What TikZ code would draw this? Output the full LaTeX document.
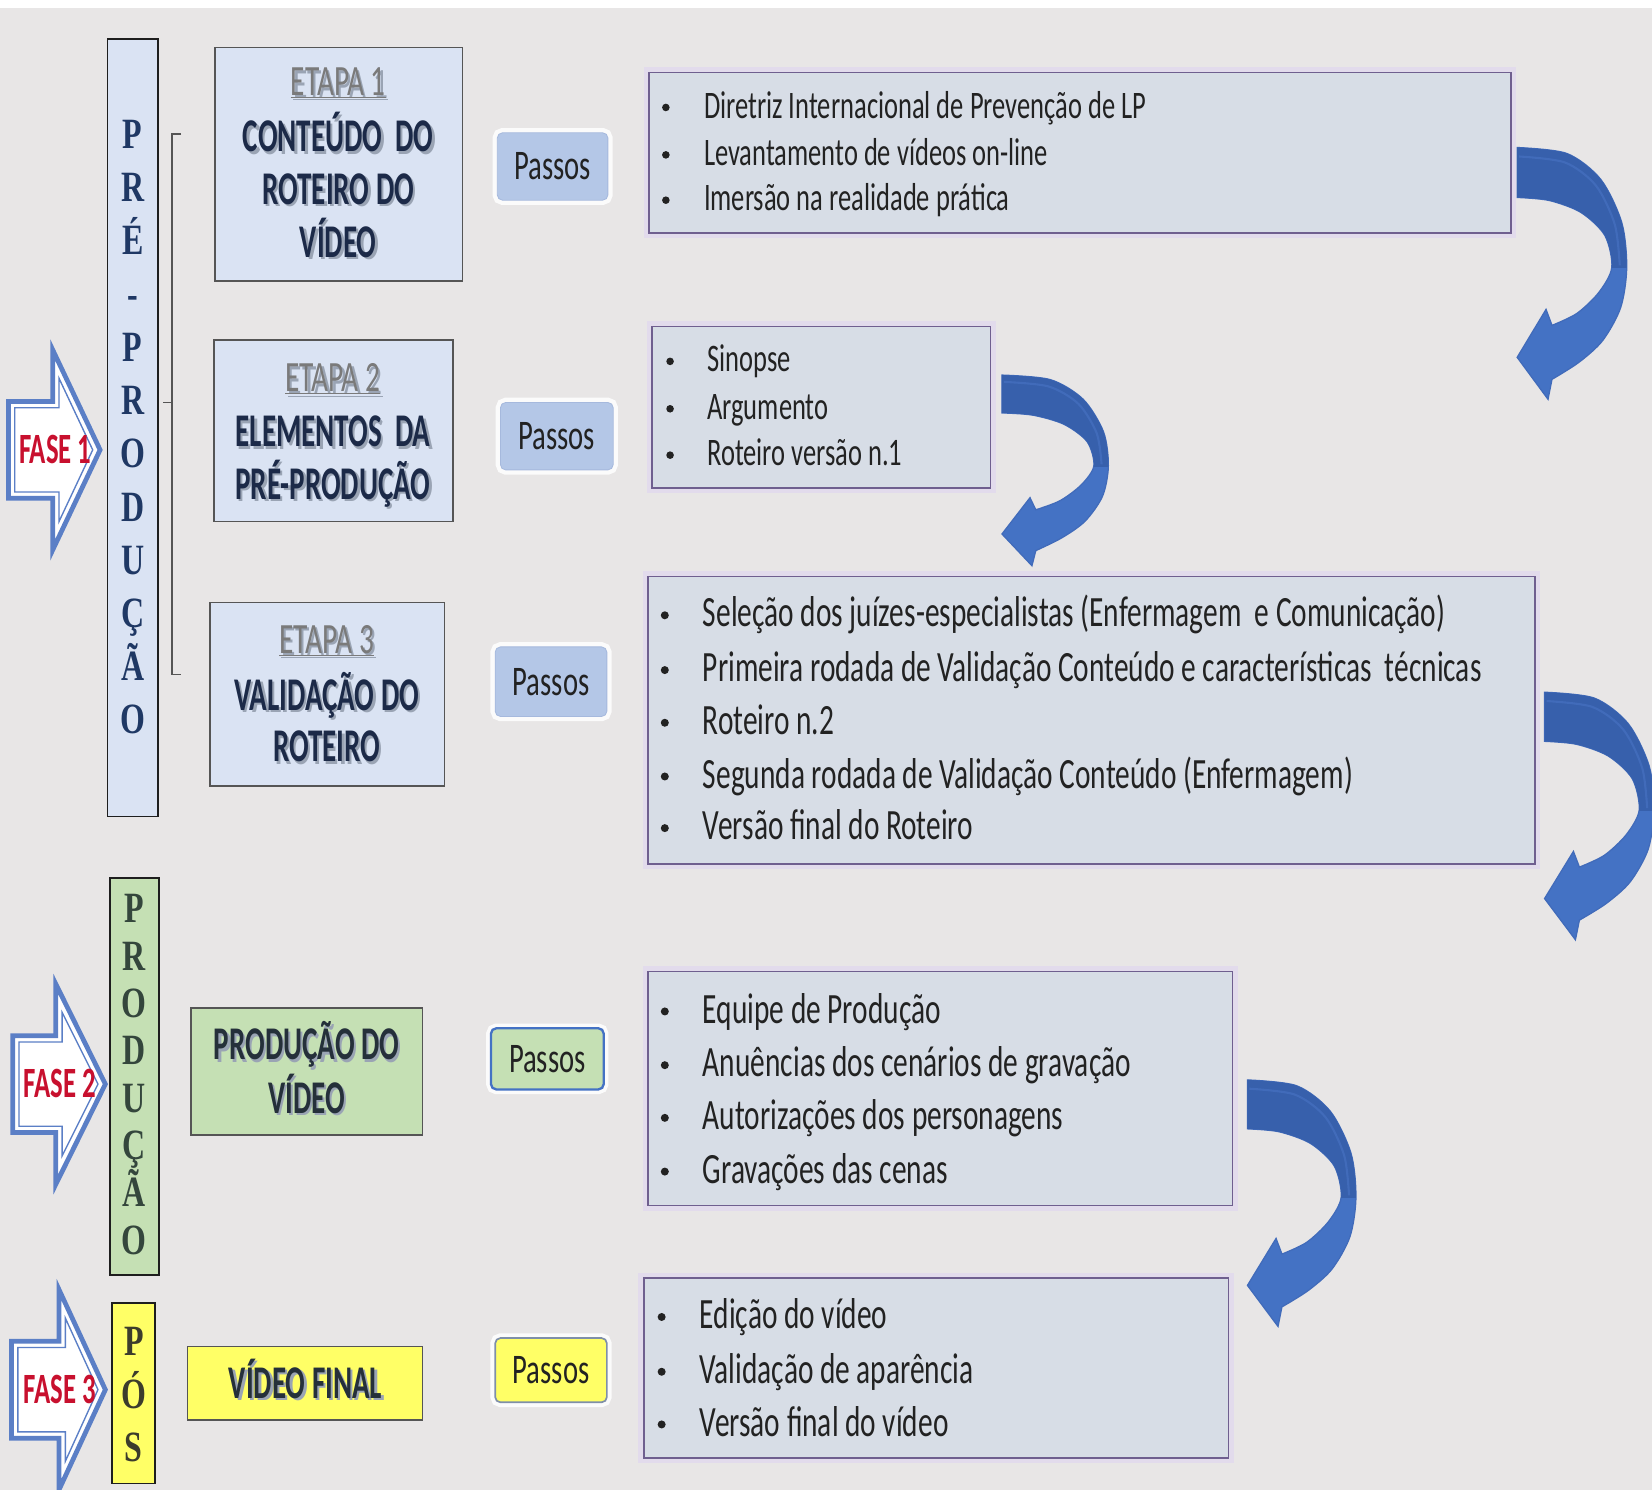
\documentclass[tikz,border=0pt]{standalone}
\usepackage{fontspec}
\setmainfont{Carlito}
\newfontfamily\calr[FakeStretch=0.68]{Carlito}
\newfontfamily\calb[FakeStretch=0.62]{Carlito}
\newfontfamily\tms[FakeStretch=0.74]{Liberation Serif}
\definecolor{bg}{HTML}{E8E6E6}
\definecolor{lblue}{HTML}{DAE3F3}
\definecolor{ebord}{HTML}{555555}
\definecolor{barbord}{HTML}{1E1E1E}
\definecolor{lfill}{HTML}{D7DDE6}
\definecolor{lbord}{HTML}{6F5F8F}
\definecolor{halo}{HTML}{E2DBEC}
\definecolor{pblue}{HTML}{B4C7E7}
\definecolor{pbord}{HTML}{A6B9DD}
\definecolor{lgreen}{HTML}{C5E0B4}
\definecolor{lyellow}{HTML}{FFFF66}
\definecolor{navy}{HTML}{1F3864}
\definecolor{ttlcol}{HTML}{1C2A48}
\definecolor{gttl}{HTML}{25303A}
\definecolor{etcol}{HTML}{7A7A7A}
\definecolor{shd}{HTML}{9AA4B4}
\definecolor{txt}{HTML}{222222}
\definecolor{fred}{HTML}{C8102E}
\definecolor{fblue}{HTML}{5B7FC6}
\definecolor{abl}{HTML}{4472C4}
\definecolor{adark}{HTML}{3760AC}
\definecolor{aedge}{HTML}{416BBA}
\definecolor{gltr}{HTML}{34463C}
\definecolor{yltr}{HTML}{3C3C2C}
\definecolor{gbord}{HTML}{4472C4}
\definecolor{ybord}{HTML}{7F8FA9}

\newcommand\shd[1]{\makebox[0pt][l]{\hspace{2.2pt}\raisebox{-2.2pt}{\color{shd}#1}}#1}

% curved ribbon arrow: x, y (tail top-left), width, height
\newcommand\carrow[4]{%
\begin{scope}[shift={(#1,#2)}, xscale=#3/110, yscale=#4/252]
\path[fill=abl, draw=aedge, line width=1.2pt] (0,0) -- plot[smooth] coordinates {(0,0) (50,6) (84,32) (105,75) (110,120) (104,160) (86,193) (62,215) (35,232)} -- (31,252) -- (0,210) -- (29,162) -- (35,178) -- plot[smooth] coordinates {(35,178) (60,166) (82,145) (95,120) (88,88) (64,65) (32,53) (0,50)} -- cycle;
\begin{scope}
\clip (0,0) -- plot[smooth] coordinates {(0,0) (50,6) (84,32) (105,75) (110,120) (104,160) (86,193) (62,215) (35,232)} -- (31,252) -- (0,210) -- (29,162) -- (35,178) -- plot[smooth] coordinates {(35,178) (60,166) (82,145) (95,120) (88,88) (64,65) (32,53) (0,50)} -- cycle;
\fill[adark] (-5,-5) rectangle (120,121);
\draw[aedge, line width=2pt] plot[smooth] coordinates {(2,9) (48,15) (79,38) (98,77) (103,118)};
\end{scope}
\end{scope}}

% block arrow: cy, left, head base, tip, name, label
\newcommand\fasearrow[6]{%
\path[fill=white, draw=fblue, line width=4.5pt, line join=miter] ({#2},{#1-46}) -- ({#3},{#1-46}) -- ({#3},{#1-95}) -- ({#4},{#1}) -- ({#3},{#1+95}) -- ({#3},{#1+46}) -- ({#2},{#1+46}) -- cycle;
\path[draw=fblue, line width=1.3pt] ({#2+6},{#1-40}) -- ({#3+6},{#1-40}) -- ({#3+6},{#1-68}) -- ({#4-7},{#1}) -- ({#3+6},{#1+68}) -- ({#3+6},{#1+40}) -- ({#2+6},{#1+40}) -- cycle;
\node[fasetxt] (#5) at ({(#2+#4)/2+1},{#1+13}) {#6};}

\tikzset{
  ebox/.style={draw=ebord, fill=lblue, line width=1.6pt, inner sep=0pt, outer sep=0pt},
  bar/.style={draw=barbord, line width=1.8pt, inner sep=0pt, outer sep=0pt},
  lbox/.style={draw=lbord, fill=lfill, line width=1.5pt, inner sep=0pt, outer sep=0pt, preaction={draw=halo, line width=10pt}},
  pbox/.style={rounded corners=5pt, inner sep=0pt, outer sep=0pt, preaction={draw=white, line width=9pt, opacity=.85}, font=\calr\fontsize{40}{44}\selectfont, text=txt},
  ttl/.style={anchor=base, inner sep=0pt, font=\calb\bfseries\fontsize{44.5}{50}\selectfont, text=ttlcol},
  etl/.style={anchor=base, inner sep=0pt, font=\calr\fontsize{41}{44}\selectfont, text=etcol},
  itm/.style={anchor=base west, inner sep=0pt, font=\calr\fontsize{41}{45}\selectfont, text=txt},
  itms/.style={anchor=base west, inner sep=0pt, font=\calr\fontsize{37}{41}\selectfont, text=txt},
  ltr/.style={anchor=base, inner sep=0pt, font=\tms\bfseries\fontsize{41}{44}\selectfont},
  fasetxt/.style={anchor=base, inner sep=0pt, font=\calb\bfseries\fontsize{41}{44}\selectfont, text=fred},
}

\begin{document}
\begin{tikzpicture}[x=1pt,y=-1pt]
\useasboundingbox (0,0) rectangle (1568,1414);
\clip (0,0) rectangle (1568,1414);
\fill[bg] (0,0) rectangle (1568,1414);
\fill[white] (0,0) rectangle (1568,8);

% ---------- vertical phase bars ----------
\node[bar, fill=lblue, minimum width=48pt, minimum height=738pt] (prebar) at (126,406) {};
\foreach \l [count=\i from 0] in {P,R,É,-,P,R,O,D,U,Ç,Ã,O}
  \node[ltr, text=navy] (pre\i) at (126,{127+50.5*\i+14}) {\l};

\node[bar, fill=lgreen, minimum width=47pt, minimum height=377pt] (prodbar) at (127.5,1021.5) {};
\foreach \l [count=\i from 0] in {P,R,O,D,U,Ç,Ã,O}
  \node[ltr, text=gltr] (prod\i) at (127,{862+44.9*\i+14}) {\l};

\node[bar, fill=lyellow, minimum width=41pt, minimum height=171pt] (posbar) at (126.5,1322.5) {};
\foreach \l [count=\i from 0] in {P,Ó,S}
  \node[ltr, text=yltr] (pos\i) at (127,{1273+50*\i+14}) {\l};

% bracket
\draw[ebord, line width=1.5pt] (172,127) -- (163,127) -- (163,640) -- (172,640);
\draw[ebord, line width=1.5pt] (163,382) -- (155,382);

% ---------- FASE arrows ----------
\fasearrow{427}{8}{50}{95}{fase1}{FASE 1}
\fasearrow{1029}{12}{53}{100}{fase2}{FASE 2}
\fasearrow{1319}{11}{56}{100}{fase3}{FASE 3}

% ---------- ETAPA boxes ----------
\node[ebox, minimum width=235pt, minimum height=222pt] (e1) at (321.5,156) {};
\node[etl] (e1a) at (321,91) {\shd{\underline{ETAPA 1}}};
\node[ttl] (e1b) at (321,144) {\shd{CONTEÚDO~ DO}};
\node[ttl] (e1c) at (321,194) {\shd{ROTEIRO DO}};
\node[ttl] (e1d) at (321,244) {\shd{VÍDEO}};

\node[ebox, minimum width=227pt, minimum height=172pt] (e2) at (316.5,409) {};
\node[etl] (e2a) at (316,372) {\shd{\underline{ETAPA 2}}};
\node[ttl] (e2b) at (316,424) {\shd{ELEMENTOS~ DA}};
\node[ttl] (e2c) at (316,474) {\shd{PRÉ-PRODUÇÃO}};

\node[ebox, minimum width=223pt, minimum height=174pt] (e3) at (310.5,659) {};
\node[etl] (e3a) at (310,620) {\shd{\underline{ETAPA 3}}};
\node[ttl] (e3b) at (310,674) {\shd{VALIDAÇÃO DO}};
\node[ttl] (e3c) at (310,723) {\shd{ROTEIRO}};

\node[ebox, fill=lgreen, minimum width=220pt, minimum height=120pt] (gp) at (291,1017) {};
\node[ttl, text=gttl] (gpa) at (291,1006) {\shd{PRODUÇÃO DO}};
\node[ttl, text=gttl] (gpb) at (291,1057) {\shd{VÍDEO}};

\node[ebox, fill=lyellow, minimum width=223pt, minimum height=70pt] (vf) at (289.5,1313) {};
\node[ttl, text=gttl] (vfa) at (290,1327) {\shd{VÍDEO FINAL}};

% ---------- Passos ----------
\node[pbox, fill=pblue, draw=pbord, line width=0.8pt, minimum width=105pt, minimum height=64pt] (p1) at (524.5,158) {Passos};
\node[pbox, fill=pblue, draw=pbord, line width=0.8pt, minimum width=107pt, minimum height=64pt] (p2) at (528.5,414) {Passos};
\node[pbox, fill=pblue, draw=pbord, line width=0.8pt, minimum width=106pt, minimum height=66pt] (p3) at (523,647) {Passos};
\node[pbox, fill=lgreen, draw=gbord, line width=2.2pt, minimum width=107pt, minimum height=58pt] (p4) at (519.5,1005) {Passos};
\node[pbox, fill=lyellow, draw=ybord, line width=1.6pt, minimum width=106pt, minimum height=61pt] (p5) at (523,1300.5) {Passos};

% ---------- list boxes ----------
\node[lbox, minimum width=818pt, minimum height=152pt] (b1) at (1025,145) {};
\node[lbox, minimum width=321pt, minimum height=153pt] (b2) at (779.5,386.5) {};
\node[lbox, minimum width=842pt, minimum height=273pt] (b3) at (1036,683.5) {};
\node[lbox, minimum width=555pt, minimum height=222pt] (b4) at (892.5,1033) {};
\node[lbox, minimum width=555pt, minimum height=171pt] (b5) at (888.5,1298.5) {};

% B1
\foreach \yy/\t [count=\i] in {100/Diretriz Internacional de Prevenção de LP, 145/Levantamento de vídeos on-line, 188/Imersão na realidade prática}{
  \fill[txt] (632,{\yy+2}) circle (3.6);
  \node[itms] (b1t\i) at (668,{\yy+12}) {\t};
}
% B2
\foreach \yy/\t [count=\i] in {341/Sinopse, 386/Argumento, 430/Roteiro versão n.1}{
  \fill[txt] (636,{\yy+2}) circle (3.6);
  \node[itms] (b2t\i) at (671,{\yy+12}) {\t};
}
% B3
\foreach \yy/\t [count=\i] in {582/Seleção dos juízes-especialistas (Enfermagem~ e Comunicação), 634/Primeira rodada de Validação Conteúdo e características~ técnicas, 684/Roteiro n.2, 735/Segunda rodada de Validação Conteúdo (Enfermagem), 784/Versão final do Roteiro}{
  \fill[txt] (631,{\yy+2}) circle (3.8);
  \node[itm] (b3t\i) at (667,{\yy+13}) {\t};
}
% B4
\foreach \yy/\t [count=\i] in {958/Equipe de Produção, 1009/Anuências dos cenários de gravação, 1059/Autorizações dos personagens, 1110/Gravações das cenas}{
  \fill[txt] (631,{\yy+2}) circle (3.8);
  \node[itm] (b4t\i) at (667,{\yy+13}) {\t};
}
% B5
\foreach \yy/\t [count=\i] in {1248/Edição do vídeo, 1300/Validação de aparência, 1350/Versão final do vídeo}{
  \fill[txt] (628,{\yy+2}) circle (3.8);
  \node[itm] (b5t\i) at (664,{\yy+13}) {\t};
}

% ---------- curved arrows ----------
\carrow{1440}{140}{104}{239}
\carrow{951}{356}{101}{181}
\carrow{1466}{657}{104}{235}
\carrow{1184}{1025}{103}{234}
\end{tikzpicture}
\end{document}
